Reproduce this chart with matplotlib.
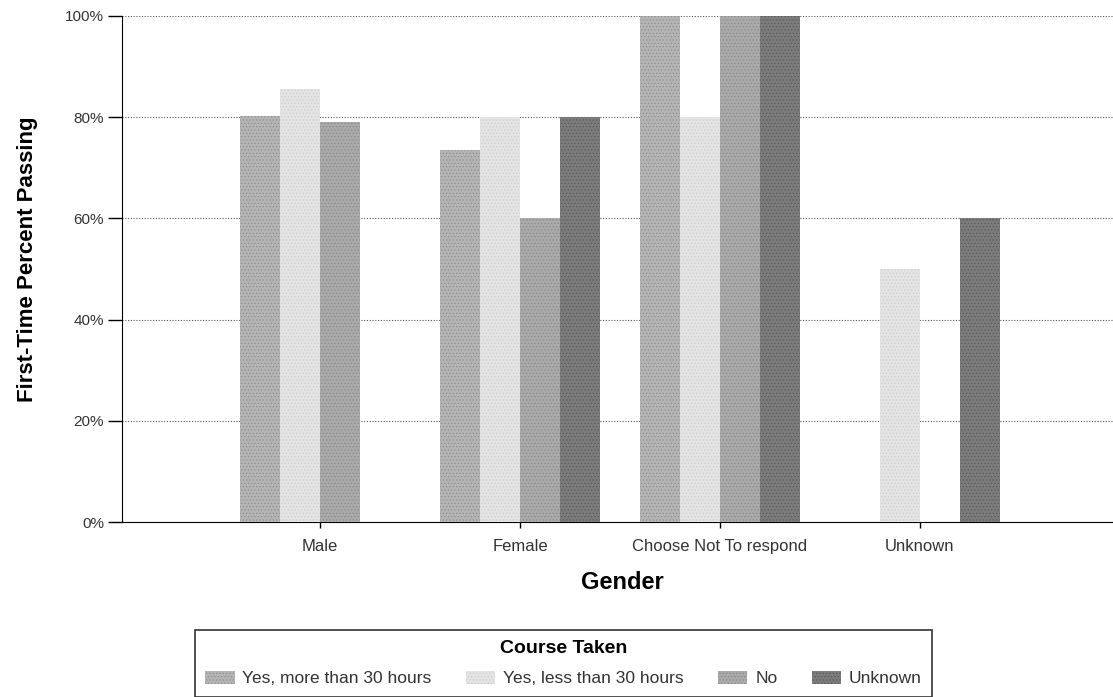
import matplotlib.pyplot as plt
import numpy as np

plt.rcParams['font.family'] = ['Liberation Sans', 'DejaVu Sans']
plt.rcParams['hatch.linewidth'] = 0.5

genders = ['Male', 'Female', 'Choose Not To respond', 'Unknown']
series = ['Yes, more than 30 hours', 'Yes, less than 30 hours', 'No', 'Unknown']
more_30 = [80.2, 73.5, 100, 0]
less_30 = [85.6, 80.0, 80.0, 50.0]
no_course = [79.0, 60.0, 100, 0]
unknown = [0, 80.0, 100, 60.0]
values = [more_30, less_30, no_course, unknown]

colors = ['#b4b4b4', '#e4e4e4', '#aaaaaa', '#7c7c7c']
hatch_colors = ['#8e8e8e', '#cccccc', '#8a8a8a', '#5a5a5a']

fig = plt.figure(figsize=(11.13, 6.97), dpi=100)
ax = fig.add_axes([122 / 1113, 1 - 522 / 697, (1113 - 122) / 1113, (522 - 16) / 697])

x = np.arange(len(genders))
w = 0.2
for i, (vals, c, hc) in enumerate(zip(values, colors, hatch_colors)):
    ax.bar(x + (i - 1.5) * w, vals, w, color=c, edgecolor=hc, hatch='.....',
           linewidth=0, label=series[i], zorder=3)

ax.set_xlim(-0.99, 3.965)
ax.set_ylim(0, 100)
ax.set_yticks([0, 20, 40, 60, 80, 100])
ax.set_yticklabels(['0%', '20%', '40%', '60%', '80%', '100%'], fontsize=11, color='#333333')
ax.set_xticks(x)
ax.set_xticklabels(genders, fontsize=12, color='#333333')
ax.tick_params(axis='y', length=10, width=1, pad=3)
ax.tick_params(axis='x', length=4.5, width=1, pad=8)
ax.yaxis.grid(True, linestyle=(0, (1, 1.5)), color='#555555', linewidth=0.8, zorder=0)
ax.spines['top'].set_visible(False)
ax.spines['right'].set_visible(False)
ax.set_ylabel('First-Time Percent Passing', fontsize=16, fontweight='bold')
ax.yaxis.set_label_coords((38 - 122) / 991, 0.52)
ax.set_xlabel('Gender', fontsize=17, fontweight='bold')
ax.xaxis.set_label_coords(0.505, (522 - 571) / 506)

leg = fig.legend(loc='upper center', bbox_to_anchor=((195 + 932) / 2 / 1113, 1 - 621 / 697),
                 ncol=4, title='Course Taken', fontsize=12.5,
                 title_fontproperties={'weight': 'bold', 'size': 14},
                 frameon=True, fancybox=False, edgecolor='black', borderpad=0.6,
                 labelspacing=0.8, handlelength=1.7, handleheight=0.75,
                 handletextpad=0.45, columnspacing=1.97)
leg.get_frame().set_linewidth(1.2)
for t in leg.get_texts():
    t.set_color('#333333')

fig.savefig('out.png', dpi=100)
